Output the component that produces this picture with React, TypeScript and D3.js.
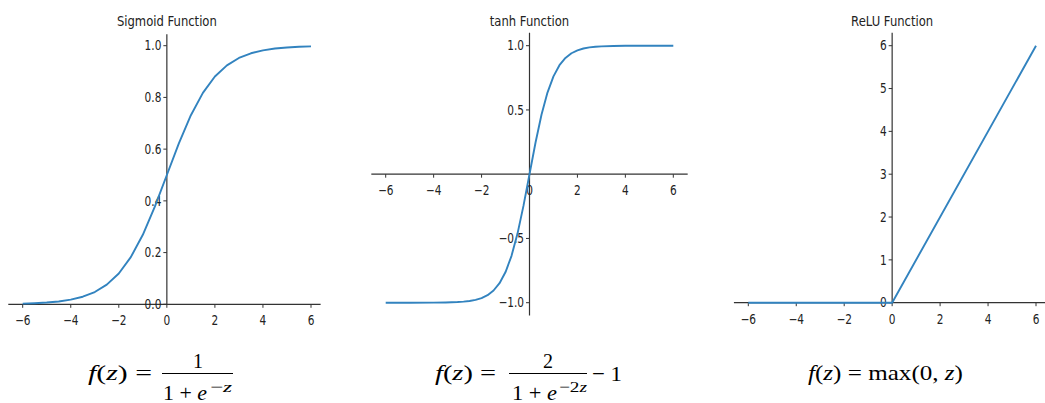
import React from "react";
import * as d3 from "d3";

// Sampled activation curves
const sigmoidX = [-6, -5.5, -5, -4.5, -4, -3.5, -3, -2.5, -2, -1.5, -1, -0.5, 0, 0.5, 1, 1.5, 2, 2.5, 3, 3.5, 4, 4.5, 5, 5.5, 6];
const sigmoidY = [0.0025, 0.0041, 0.0067, 0.011, 0.018, 0.0293, 0.0474, 0.0759, 0.1192, 0.1824, 0.2689, 0.3775, 0.5, 0.6225, 0.7311, 0.8176, 0.8808, 0.9241, 0.9526, 0.9707, 0.982, 0.989, 0.9933, 0.9959, 0.9975];

const tanhX = [-6, -5, -4, -3.5, -3, -2.75, -2.5, -2.25, -2, -1.75, -1.5, -1.25, -1, -0.75, -0.5, -0.25, 0, 0.25, 0.5, 0.75, 1, 1.25, 1.5, 1.75, 2, 2.25, 2.5, 2.75, 3, 3.5, 4, 5, 6];
const tanhY = [-1.0, -0.9999, -0.9993, -0.9982, -0.9951, -0.9918, -0.9866, -0.978, -0.964, -0.9414, -0.9051, -0.8483, -0.7616, -0.6351, -0.4621, -0.2449, 0, 0.2449, 0.4621, 0.6351, 0.7616, 0.8483, 0.9051, 0.9414, 0.964, 0.978, 0.9866, 0.9918, 0.9951, 0.9982, 0.9993, 0.9999, 1.0];

const reluX = [-6, 0, 6];
const reluY = [0, 0, 6];

// Tick values
const xTicks = [-6, -4, -2, 0, 2, 4, 6];
const sigmoidYTicks = [0, 0.2, 0.4, 0.6, 0.8, 1.0];
const tanhYTicks = [-1, -0.5, 0.5, 1];
const reluYTicks = [0, 1, 2, 3, 4, 5, 6];

const titles = ["Sigmoid Function", "tanh Function", "ReLU Function"];

const LINE = "#3283bf";
const AXIS = "#333";
const SANS = "'DejaVu Sans', sans-serif";
const SERIF = "'Liberation Serif', serif";
const SQUEEZE = 0.8;

type Panel = {
  title: string;
  xs: number[];
  ys: number[];
  yTicks: number[];
  fmt: (v: number) => string;
  xRange: [number, number];
  yDomain: [number, number];
  yRange: [number, number];
  xSpine: [number, number];
  ySpine: [number, number];
};

const panels: Panel[] = [
  {
    title: titles[0], xs: sigmoidX, ys: sigmoidY, yTicks: sigmoidYTicks, fmt: d3.format(".1f"),
    xRange: [22.7, 311], yDomain: [0, 1], yRange: [304.3, 45.7], xSpine: [-6.6, 6.4], ySpine: [0, 1.044],
  },
  {
    title: titles[1], xs: tanhX, ys: tanhY, yTicks: tanhYTicks, fmt: d3.format(".1f"),
    xRange: [385.7, 673.3], yDomain: [-1, 1], yRange: [302.7, 45.7], xSpine: [-6.6, 6.6], ySpine: [-1.1, 1.1],
  },
  {
    title: titles[2], xs: reluX, ys: reluY, yTicks: reluYTicks, fmt: d3.format("d"),
    xRange: [748.3, 1036], yDomain: [0, 6], yRange: [302.7, 45.7], xSpine: [-6.6, 6.6], ySpine: [0, 6.3],
  },
];

const xFmt = d3.format("d");

function Label({ x, y, size, anchor, children }: { x: number; y: number; size: number; anchor: string; children: React.ReactNode }) {
  return (
    <text
      transform={`translate(${x},${y}) scale(${SQUEEZE},1)`}
      textAnchor={anchor}
      fontFamily={SANS}
      fontSize={size}
      fill="#222"
    >
      {children}
    </text>
  );
}

function Chart({ p }: { p: Panel }) {
  const x = d3.scaleLinear().domain([-6, 6]).range(p.xRange);
  const y = d3.scaleLinear().domain(p.yDomain).range(p.yRange);
  const line = d3.line<number>().x((_, i) => x(p.xs[i])).y((d) => y(d));
  const x0 = x(0);
  const y0 = y(0);
  return (
    <g>
      <Label x={x0} y={25.5} size={14.5} anchor="middle">{p.title}</Label>
      {/* spines crossing at the origin */}
      <line x1={x(p.xSpine[0])} x2={x(p.xSpine[1])} y1={y0} y2={y0} stroke={AXIS} strokeWidth={1.2} />
      <line x1={x0} x2={x0} y1={y(p.ySpine[0])} y2={y(p.ySpine[1])} stroke={AXIS} strokeWidth={1.2} />
      {xTicks.map((t) => (
        <g key={"x" + t}>
          <line x1={x(t)} x2={x(t)} y1={y0} y2={y0 + 3.5} stroke={AXIS} strokeWidth={1} />
          <Label x={x(t)} y={y0 + 21} size={13.2} anchor="middle">{xFmt(t)}</Label>
        </g>
      ))}
      {p.yTicks.map((t) => (
        <g key={"y" + t}>
          <line x1={x0 - 3.5} x2={x0} y1={y(t)} y2={y(t)} stroke={AXIS} strokeWidth={1} />
          <Label x={x0 - 5.5} y={y(t) + 4.7} size={13.2} anchor="end">{p.fmt(t)}</Label>
        </g>
      ))}
      <path d={line(p.ys) || ""} fill="none" stroke={LINE} strokeWidth={1.9} strokeLinejoin="round" />
    </g>
  );
}

function Fz({ x, y, w }: { x: number; y: number; w: number }) {
  return (
    <text x={x} y={y} fontFamily={SERIF} fontSize={22} textLength={w} lengthAdjust="spacingAndGlyphs" fill="#000">
      <tspan fontStyle="italic">f</tspan>(<tspan fontStyle="italic">z</tspan>) =
    </text>
  );
}

function Formulas() {
  const s = { fontFamily: SERIF, fill: "#000" } as const;
  return (
    <g>
      {/* sigmoid */}
      <Fz x={88} y={380} w={64} />
      <text {...s} x={198} y={368} fontSize={20} textAnchor="middle">1</text>
      <line x1={162} x2={233} y1={373.5} y2={373.5} stroke="#000" strokeWidth={1} />
      <text {...s} x={163} y={400} fontSize={21} textLength={44} lengthAdjust="spacingAndGlyphs">1 + <tspan fontStyle="italic">e</tspan></text>
      <text {...s} x={210} y={392} fontSize={15} textLength={22} lengthAdjust="spacingAndGlyphs">−<tspan fontStyle="italic">z</tspan></text>

      {/* tanh */}
      <Fz x={435} y={380} w={61} />
      <text {...s} x={548} y={368} fontSize={20} textAnchor="middle">2</text>
      <line x1={509} x2={587} y1={373.5} y2={373.5} stroke="#000" strokeWidth={1} />
      <text {...s} x={512} y={400} fontSize={21} textLength={45} lengthAdjust="spacingAndGlyphs">1 + <tspan fontStyle="italic">e</tspan></text>
      <text {...s} x={559} y={392} fontSize={15} textLength={28} lengthAdjust="spacingAndGlyphs">−2<tspan fontStyle="italic">z</tspan></text>
      <text {...s} x={592} y={381} fontSize={22} textLength={30} lengthAdjust="spacingAndGlyphs">− 1</text>

      {/* ReLU */}
      <text {...s} x={808} y={380} fontSize={22} textLength={155} lengthAdjust="spacingAndGlyphs">
        <tspan fontStyle="italic">f</tspan>(<tspan fontStyle="italic">z</tspan>) = max(0, <tspan fontStyle="italic">z</tspan>)
      </text>
    </g>
  );
}

export default function App() {
  return (
    <svg
      width={1045}
      height={403}
      viewBox="0 0 1045 403"
      style={{ position: "absolute", left: 0, top: 0, background: "#fff" }}
    >
      <rect width={1045} height={403} fill="#fff" />
      {panels.map((p) => (
        <Chart key={p.title} p={p} />
      ))}
      <Formulas />
    </svg>
  );
}
